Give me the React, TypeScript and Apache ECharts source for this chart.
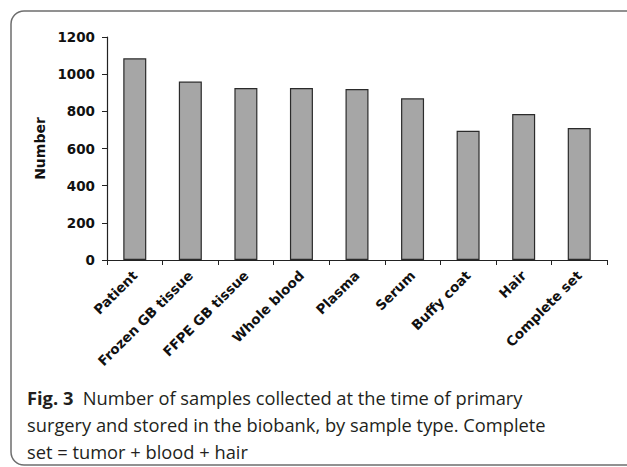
import React, { useEffect, useRef } from "react";
import * as echarts from "echarts";

const categories = [
  "Patient",
  "Frozen GB tissue",
  "FFPE GB tissue",
  "Whole blood",
  "Plasma",
  "Serum",
  "Buffy coat",
  "Hair",
  "Complete set",
];
const sampleCounts = [1085, 960, 925, 925, 920, 870, 695, 785, 710];
const yTicks = { min: 0, max: 1200, interval: 200 };
const yAxisName = "Number";
const captionBold = "Fig. 3";
const captionLines = [
  "Number of samples collected at the time of primary",
  "surgery and stored in the biobank, by sample type. Complete",
  "set = tumor + blood + hair",
];

export default function App() {
  const ref = useRef<HTMLDivElement>(null);
  useEffect(() => {
    document.body.style.margin = "0";
    const chart = echarts.init(ref.current!, null, { renderer: "svg" });
    const axisFont = {
      fontFamily: "DejaVu Sans",
      fontWeight: "bold" as const,
      fontSize: 13.5,
      color: "#111",
    };
    chart.setOption({
      animation: false,
      backgroundColor: "#fff",
      graphic: [
        {
          type: "rect",
          shape: { x: 11, y: 11, width: 640, height: 454, r: 13 },
          style: { fill: "none", stroke: "#6e6e6e", lineWidth: 1.5 },
          silent: true,
        },
      ],
      title: {
        left: 22,
        top: 379,
        text: "{b|" + captionBold + "}  " + captionLines.join("\n"),
        textStyle: {
          fontFamily: "Open Sans",
          fontWeight: "normal",
          fontSize: 18.3,
          lineHeight: 27,
          color: "#231f20",
          rich: {
            b: {
              fontFamily: "Open Sans",
              fontWeight: "bold",
              fontSize: 18.3,
              lineHeight: 27,
              color: "#231f20",
            },
          },
        },
      },
      grid: { left: 107, right: 20, top: 37, bottom: 207, containLabel: false },
      xAxis: {
        type: "category",
        data: categories,
        boundaryGap: true,
        axisLine: { lineStyle: { color: "#222", width: 1.2 } },
        axisTick: { show: true, alignWithLabel: false, length: 5, lineStyle: { color: "#222" } },
        axisLabel: { ...axisFont, rotate: 45, margin: 13, interval: 0 },
      },
      yAxis: {
        type: "value",
        min: yTicks.min,
        max: yTicks.max,
        interval: yTicks.interval,
        name: yAxisName,
        nameLocation: "middle",
        nameGap: 55,
        nameTextStyle: { ...axisFont, fontSize: 14 },
        axisLine: { show: true, lineStyle: { color: "#222", width: 1.2 } },
        axisTick: { show: true, length: 5, lineStyle: { color: "#222" } },
        splitLine: { show: false },
        axisLabel: { ...axisFont, margin: 12, formatter: (v: number) => String(v) },
      },
      series: [
        {
          type: "bar",
          data: sampleCounts,
          barWidth: 23,
          itemStyle: { color: "#a6a6a6", borderColor: "#2b2b2b", borderWidth: 1.2 },
        },
      ],
    });
    return () => chart.dispose();
  }, []);
  return <div ref={ref} style={{ width: 627, height: 467 }} />;
}
